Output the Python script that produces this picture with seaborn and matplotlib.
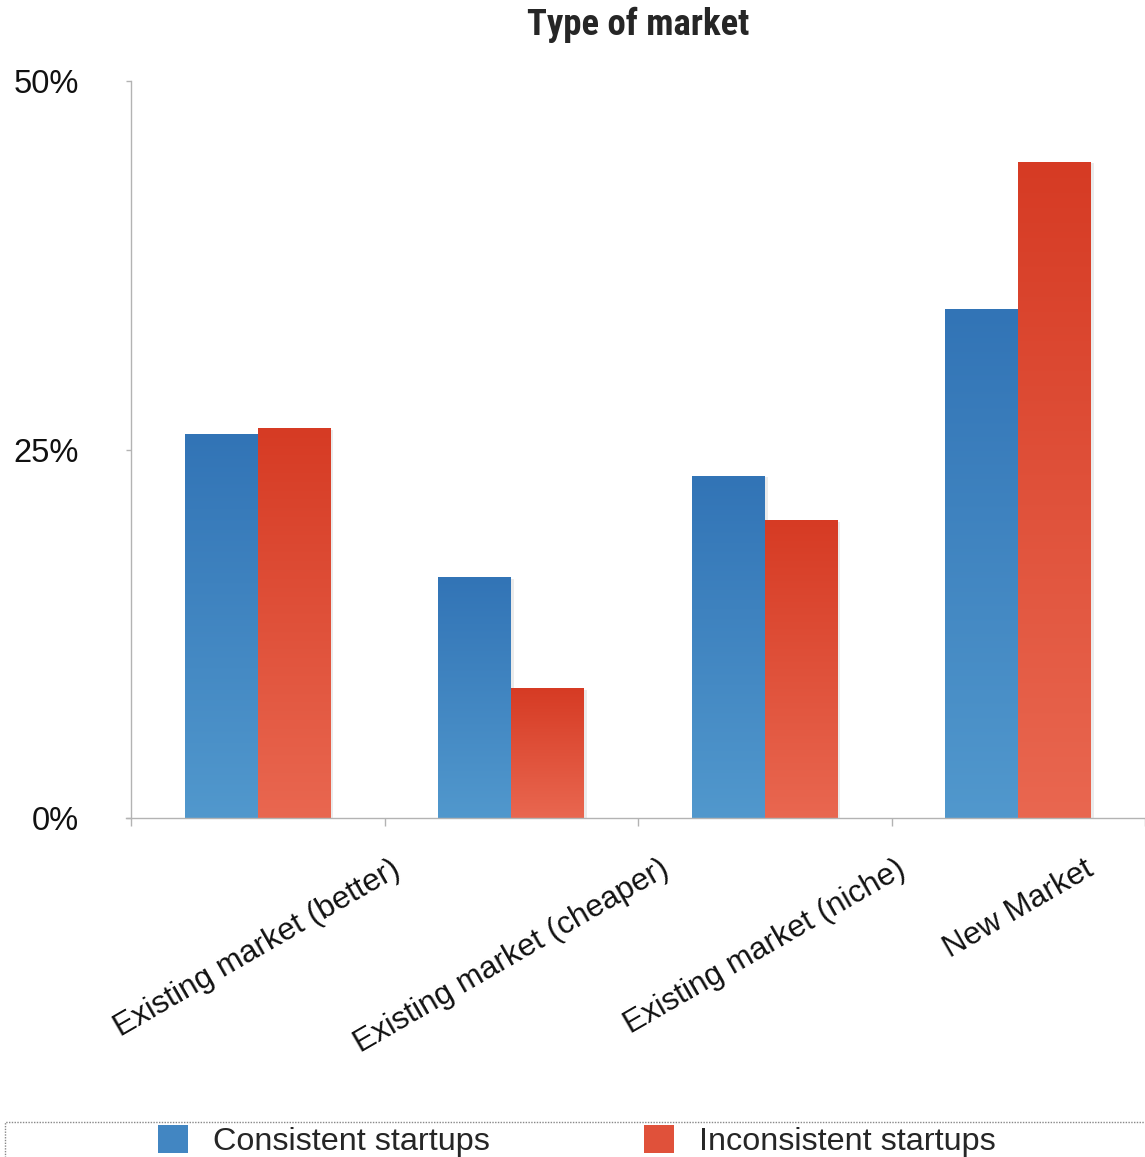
import numpy as np
import pandas as pd
import matplotlib
matplotlib.use("Agg")
import matplotlib.pyplot as plt
import matplotlib.patheffects as pe
from matplotlib.patches import Patch, Rectangle
from matplotlib.colors import to_rgb
from matplotlib import font_manager as fm
import seaborn as sns

# ---- data ----
categories = ["Existing market (better)", "Existing market (cheaper)",
              "Existing market (niche)", "New Market"]
consistent = [26.0, 16.3, 23.2, 34.5]
inconsistent = [26.4, 8.8, 20.2, 44.5]
series_names = ["Consistent startups", "Inconsistent startups"]
y_ticks = [0, 25, 50]
y_tick_labels = ["0%", "25%", "50%"]
title = "Type of market"

df = pd.DataFrame({
    "category": categories * 2,
    "series": [series_names[0]] * 4 + [series_names[1]] * 4,
    "value": consistent + inconsistent,
})

# colours (top, bottom) of gradient
grad = {
    series_names[0]: ("#3274b6", "#5198cd"),
    series_names[1]: ("#d63b24", "#e96750"),
}
mid = {k: tuple((np.array(to_rgb(a)) + np.array(to_rgb(b))) / 2) for k, (a, b) in grad.items()}

sns.set_style("white")
plt.rcParams["font.family"] = ["Liberation Sans", "DejaVu Sans"]

# find a condensed bold font for the title
names = {f.name for f in fm.fontManager.ttflist}
title_family = None
for cand in ["Liberation Sans Narrow", "DejaVu Sans Condensed", "Roboto Condensed", "Open Sans Condensed"]:
    if cand in names:
        title_family = cand
        break
title_kw = dict(fontsize=26.5, fontweight="bold")
if title_family:
    title_kw["family"] = [title_family, "DejaVu Sans"]
else:
    title_kw["family"] = ["DejaVu Sans"]
    title_kw["fontstretch"] = "condensed"

W, H = 1145, 1157
fig = plt.figure(figsize=(W / 100, H / 100), dpi=100)
ax = fig.add_axes([131 / W, 1 - 818 / H, (1145 - 131) / W, (818 - 81) / H])

sns.barplot(data=df, x="category", y="value", hue="series",
            palette=[mid[s] for s in series_names], width=0.575,
            saturation=1, legend=False, ax=ax, edgecolor="none")

# gradient fill for each bar
for cont, s in zip(ax.containers, series_names):
    top, bot = grad[s]
    ct, cb = np.array(to_rgb(top)), np.array(to_rgb(bot))
    t = np.linspace(0, 1, 256)[:, None]
    img = (ct[None, :] * (1 - t) + cb[None, :] * t)[:, None, :]
    for bar in cont:
        x0, y0 = bar.get_x(), bar.get_y()
        w, h = bar.get_width(), bar.get_height()
        bar.set_path_effects([pe.SimplePatchShadow(offset=(2, -1), shadow_rgbFace="#000000", alpha=0.08),
                              pe.Normal()])
        ax.imshow(img, extent=[x0, x0 + w, y0, y0 + h], aspect="auto",
                  origin="upper", zorder=bar.get_zorder() + 0.1, interpolation="bilinear")

ax.set_xlim(-0.5, 3.5)
ax.set_ylim(0, 50)

# axes styling
for side in ["top", "right"]:
    ax.spines[side].set_visible(False)
for side in ["left", "bottom"]:
    ax.spines[side].set_color("#b3b3b3")
    ax.spines[side].set_linewidth(1.0)

ax.set_yticks(y_ticks, y_tick_labels)
ax.tick_params(axis="y", which="major", left=True, length=3.6, width=1.0, color="#b3b3b3",
               direction="out", pad=34, labelsize=23.5, labelcolor="#111111")

ax.set_xticks(range(len(categories)), categories, rotation=30, ha="center", va="top")
ax.tick_params(axis="x", which="major", length=0, pad=26, labelsize=22.6, labelcolor="#111111")
ax.set_xticks([-0.5, 0.5, 1.5, 2.5, 3.5], minor=True)
ax.tick_params(axis="x", which="minor", bottom=True, length=5.8, width=1.0, color="#b3b3b3", direction="out")

ax.set_xlabel("")
ax.set_ylabel("")
ax.set_title(title, pad=33, **title_kw)
ax.spines["bottom"].set_bounds(-0.52, 3.5)

# legend
handles = [Patch(facecolor=mid[s], edgecolor="none", label=s) for s in series_names]
fig.legend(handles=handles, loc="center left", bbox_to_anchor=(158 / W, 1 - 1141 / H),
           ncol=2, frameon=False, fontsize=23.3, handlelength=0.94, handleheight=0.94,
           handletextpad=0.76, columnspacing=4.75, borderpad=0, borderaxespad=0)

# dotted legend box border
fig.patches.append(Rectangle((5 / W, -0.2), 1.2, 0.2 + (H - 1122) / H, transform=fig.transFigure,
                             fill=False, linestyle=(0, (1, 1)), edgecolor="#888888", linewidth=1))

fig.savefig("out.png", dpi=100)
